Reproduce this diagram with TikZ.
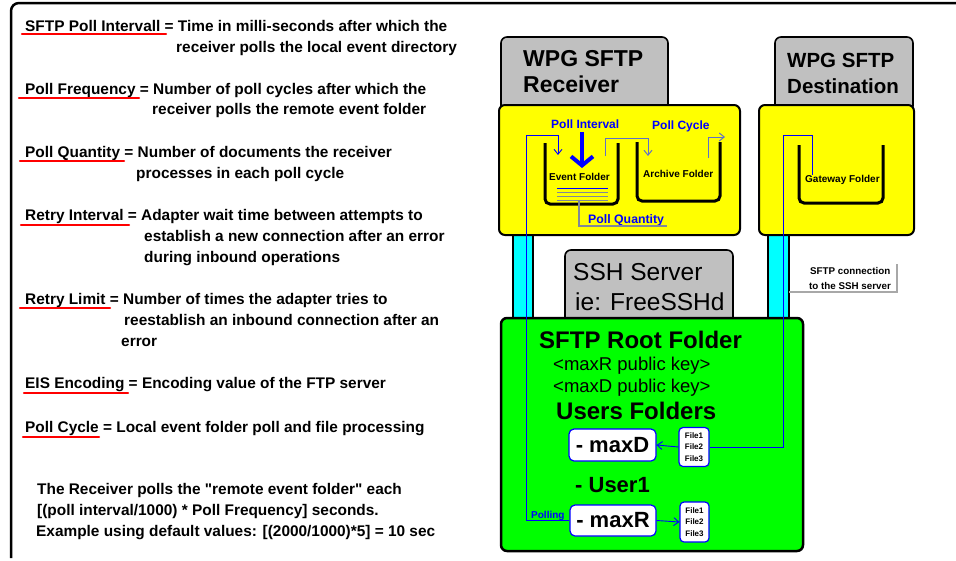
\documentclass[tikz,border=0pt]{standalone}
\usepackage{fontspec}
\setmainfont{Liberation Sans}[Ligatures=TeXOff]
\usetikzlibrary{arrows.meta}
\definecolor{yel}{HTML}{FFFF00}
\definecolor{grn}{HTML}{00FF00}
\definecolor{cyn}{HTML}{00FFFF}
\definecolor{gry}{HTML}{C0C0C0}
\definecolor{lnk}{HTML}{0000FF}
\definecolor{gblue}{HTML}{6070C8}
\definecolor{lgray}{HTML}{A8A8A8}
\definecolor{qgray}{HTML}{808898}
\begin{document}
\begin{tikzpicture}[x=1pt,y=-1pt,
  deftext/.style={inner sep=0,anchor=base west,font=\bfseries\fontsize{15.4}{18}\selectfont},
  lbl/.style={inner sep=0,anchor=base west},
  uline/.style={red,line width=2.2,line cap=round},
  tabbox/.style={draw=black,line width=1.6,fill=gry,rounded corners=6},
  panel/.style={draw=black,line width=2,fill=yel,rounded corners=6},
  pillar/.style={draw=black,line width=1.4,fill=cyn},
  bucket/.style={draw=black,line width=3,rounded corners=5},
  userbox/.style={draw=lnk,line width=1.2,fill=white,rounded corners=5,inner sep=0,
     font=\bfseries\fontsize{22}{24}\selectfont},
  filebox/.style={draw=lnk,line width=1.2,fill=white,rounded corners=4,inner sep=0,align=center,
     font=\bfseries\fontsize{8}{11.5}\selectfont},
  tip/.style={-{Straight Barb[length=5,width=8]}},
  thinln/.style={line width=0.9}
]
\useasboundingbox (0,0) rectangle (956,560);

% outer frame
\draw[line width=2.5,rounded corners=8] (11,558) -- (11,3) -- (962,3);

% ---------- left definitions ----------
\node[deftext] (d1)  at (25,31)  {SFTP Poll Intervall = Time in milli-seconds after which the};
\node[deftext] (d1b) at (176,52) {receiver polls the local event directory};
\node[deftext] (d2)  at (25,94)  {Poll Frequency = Number of poll cycles after which the};
\node[deftext] (d2b) at (152,114) {receiver polls the remote event folder};
\node[deftext] (d3)  at (25,157) {Poll Quantity = Number of documents the receiver};
\node[deftext] (d3b) at (136,178) {processes in each poll cycle};
\node[deftext] (d4)  at (25,220) {Retry Interval = Adapter wait time between attempts to};
\node[deftext] (d4b) at (144,241) {establish a new connection after an error};
\node[deftext] (d4c) at (144,262) {during inbound operations};
\node[deftext] (d5)  at (25,304) {Retry Limit = Number of times the adapter tries to};
\node[deftext] (d5b) at (124,325) {reestablish an inbound connection after an};
\node[deftext] (d5c) at (121,346) {error};
\node[deftext] (d6)  at (25,388) {EIS Encoding = Encoding value of the FTP server};
\node[deftext] (d7)  at (25,432) {Poll Cycle = Local event folder poll and file processing};
\node[deftext] (n1)  at (37,494) {The Receiver polls the "remote event folder" each};
\node[deftext] (n2)  at (37,515) {[(poll interval/1000) * Poll Frequency] seconds.};
\node[deftext] (n3)  at (36,536) {Example using default values: [(2000/1000)*5] = 10 sec};

\draw[uline] (22,34) -- (166,34);
\draw[uline] (19,98) -- (139,98);
\draw[uline] (20,161) -- (124,161);
\draw[uline] (21,225) -- (129,225);
\draw[uline] (20,308) -- (110,308);
\draw[uline] (24,393) -- (128,393);
\draw[uline] (23,437) -- (99,437);

% ---------- right diagram ----------
% tabs
\draw[tabbox] (501,37) rectangle (668,112);
\draw[tabbox] (775,37) rectangle (913,112);
\draw[tabbox] (565,250) rectangle (733,324);
% pillars
\draw[pillar] (513,230) rectangle (533,320);
\draw[pillar] (768,230) rectangle (789,320);
% panels
\draw[panel] (499,105) rectangle (740,235);
\draw[panel] (759,105) rectangle (914,235);
\draw[draw=black,line width=2.5,fill=grn,rounded corners=6] (501,318) rectangle (803,551);

% titles
\node[lbl,font=\bfseries\fontsize{23}{25}\selectfont] (rt1) at (523,66) {WPG SFTP};
\node[lbl,font=\bfseries\fontsize{23}{25}\selectfont] (rt2) at (523,92) {Receiver};
\node[lbl,font=\bfseries\fontsize{20.5}{23}\selectfont] (dt1) at (787,67) {WPG SFTP};
\node[lbl,font=\bfseries\fontsize{20.5}{23}\selectfont] (dt2) at (787,93) {Destination};
\node[lbl,font=\fontsize{24.5}{26}\selectfont] (ss1) at (573,280) {SSH Server};
\node[lbl,font=\fontsize{24.5}{26}\selectfont] (ss2) at (575,310) {ie: FreeSSHd};
\node[lbl,font=\bfseries\fontsize{24}{26}\selectfont] (rf) at (539,348) {SFTP Root Folder};
\node[lbl,font=\fontsize{18.5}{20}\selectfont] (kr) at (553,370) {<maxR public key>};
\node[lbl,font=\fontsize{18.5}{20}\selectfont] (kd) at (553,392) {<maxD public key>};
\node[lbl,font=\bfseries\fontsize{24}{26}\selectfont] (uf) at (556,419) {Users Folders};
\node[lbl,font=\bfseries\fontsize{22}{24}\selectfont] (u1) at (575,492) {- User1};

% buckets
\draw[bucket] (545,143) -- (545,204) -- (618,204) -- (618,143);
\draw[bucket] (637,142) -- (637,201) -- (720,201) -- (720,142);
\draw[bucket] (799,145) -- (799,203) -- (883,203) -- (883,145);
\node[lbl,font=\bfseries\fontsize{10}{12}\selectfont] (ev) at (549,180) {Event Folder};
\node[lbl,font=\bfseries\fontsize{10}{12}\selectfont] (ar) at (643,177) {Archive Folder};
\node[lbl,font=\bfseries\fontsize{10}{12}\selectfont] (gw) at (805,182) {Gateway Folder};

% blue labels
\node[lbl,text=lnk,font=\bfseries\fontsize{12}{14}\selectfont] (pi) at (551,128) {Poll Interval};
\node[lbl,text=lnk,font=\bfseries\fontsize{12}{14}\selectfont] (pc) at (652,129) {Poll Cycle};
\node[lbl,text=lnk,font=\bfseries\fontsize{12.3}{14}\selectfont] (pq) at (588,223) {Poll Quantity};
\node[lbl,text=lnk,font=\bfseries\fontsize{10}{12}\selectfont] (pl) at (531,518) {Polling};
\node[lbl,font=\bfseries\fontsize{9.8}{12}\selectfont] (sc1) at (810,274) {SFTP connection};
\node[lbl,font=\bfseries\fontsize{9.8}{12}\selectfont] (sc2) at (809,289) {to the SSH server};

% user boxes and files
\node[userbox,minimum width=87,minimum height=32] (maxD) at (612.5,445) {- maxD};
\node[userbox,minimum width=86,minimum height=31] (maxR) at (613,520.5) {- maxR};
\node[filebox,minimum width=30,minimum height=39] (f1) at (694,447) {File1\\File2\\File3};
\node[filebox,minimum width=29,minimum height=40] (f2) at (694.5,522) {File1\\File2\\File3};

% big poll interval arrow
\coordinate (pia) at (582,132);
\coordinate (pib) at (582,168);
\draw[lnk,line width=4.5,-{Straight Barb[length=9,width=22,line width=4]}] (pia) -- (pib);

% event folder documents (poll quantity)
\draw[lnk,line width=1] (557,188) -- (608,188);
\draw[qgray,line width=1] (557,192) -- (608,192);
\draw[qgray,line width=1] (557,196) -- (608,196);
\draw[qgray,line width=1] (557,200) -- (608,200);
\coordinate (qa) at (579,201);
\coordinate (qb) at (667,226);
\draw[qgray,line width=1.2] (qa) |- (qb);

% poll cycle connectors
\coordinate (c1a) at (605,156);
\coordinate (c1b) at (648,156);
\draw[gblue,line width=1,tip] (c1a) -- (605,138) -| (c1b);
\coordinate (c2a) at (708,158);
\coordinate (c2b) at (725,137);
\draw[gblue,line width=1,tip] (c2a) |- (c2b);

% polling connector: maxR -> event folder
\coordinate (plt) at (526,135);
\coordinate (evin) at (558,155);
\draw[lnk,thinln,tip] (maxR.west) -| (plt) -| (evin);

% gateway -> maxD
\coordinate (gwt) at (812,135);
\coordinate (gwl) at (783,135);
\draw[lnk,thinln] (gw.north -| gwt) -- (gwt) -- (gwl) |- (f1.east);
\draw[lnk,thinln,tip] (f1.west) -- (maxD.east);
\draw[lnk,thinln,tip] (maxR.east) -- (f2.west);

% SFTP connection callout
\coordinate (cb) at (789,292);
\coordinate (ct) at (897,264);
\draw[lgray,line width=1.5] (cb) -| (ct);
\end{tikzpicture}
\end{document}
